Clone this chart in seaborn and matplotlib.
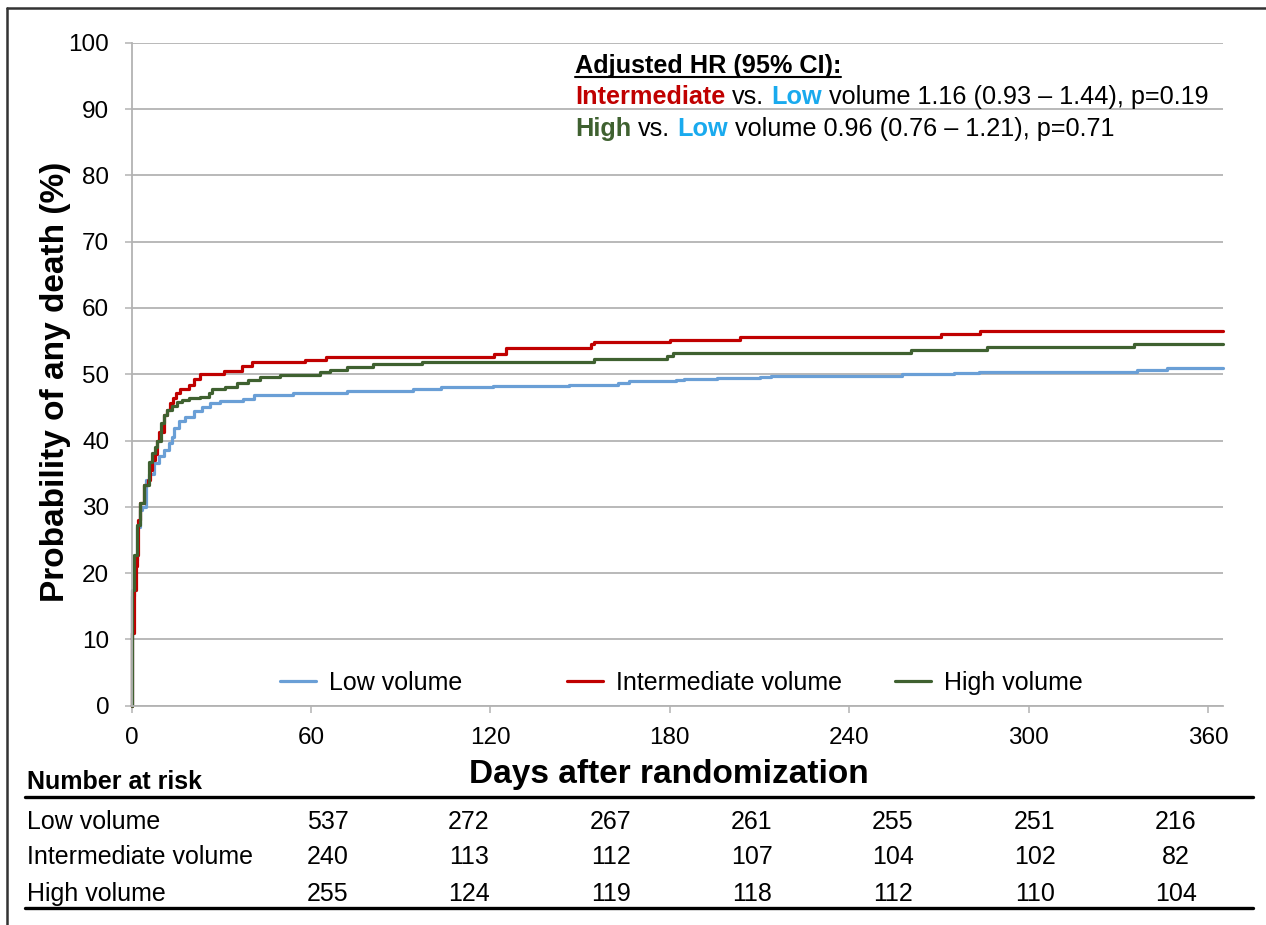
import numpy as np
import pandas as pd
import matplotlib
matplotlib.use("Agg")
import matplotlib.pyplot as plt
import seaborn as sns
from matplotlib.lines import Line2D

# ---------------- data ----------------
groups = ["Low volume", "Intermediate volume", "High volume"]

low_days = [0, 0.2, 1, 2, 3, 3.6, 4.7, 6, 7.4, 9.1, 10.8, 12.4, 13.6, 14.1, 15.8, 18,
            20.8, 23.6, 26.3, 29.7, 37.4, 40.8, 54.1, 71.9, 94.3, 103.4, 120.8, 146.3,
            162.8, 166.4, 182, 184.7, 195.7, 210.3, 214, 257.8, 275.1, 283.3, 336.3,
            346.4, 365]
low_pct = [0, 16.5, 22, 27, 29.5, 30, 34, 35, 36.6, 37.6, 38.6, 39.6, 40.6, 41.9, 42.9,
           43.6, 44.4, 45.1, 45.6, 45.9, 46.2, 46.9, 47.2, 47.4, 47.8, 48.0, 48.2, 48.4,
           48.7, 48.9, 49.1, 49.3, 49.4, 49.6, 49.8, 50.0, 50.2, 50.4, 50.7, 50.9, 50.9]

int_days = [0, 0.3, 0.8, 1.5, 2, 2.3, 3, 4.3, 5.4, 6.3, 6.9, 7.7, 8.6, 9.3, 10.8, 11.9,
            12.9, 13.8, 15, 16.3, 19.1, 20.8, 23, 30.8, 37, 40.3, 58, 65.2, 121.1, 125.3,
            153.7, 154.6, 180.1, 203.5, 270.6, 283.9, 365]
int_pct = [0, 11, 17.5, 21, 22.7, 28, 30.5, 33.3, 34, 35.5, 37, 38, 40, 41.3, 43.9, 44.6,
           45.6, 46.4, 47.2, 47.8, 48.4, 49.3, 50, 50.5, 51.3, 51.8, 52.2, 52.6, 53.1, 53.9,
           54.5, 54.9, 55.2, 55.6, 56.1, 56.5, 56.5]

high_days = [0, 0.1, 1, 1.9, 3, 4.1, 5.8, 6.9, 7.7, 8.6, 9.7, 10.8, 11.9, 13.6, 15.2, 16.9,
             19.1, 23, 25.8, 26.9, 31.3, 35.2, 39.1, 43, 49.7, 63, 66.3, 71.9, 80.8, 97,
             154.6, 179.2, 181, 260.5, 286, 335.4, 365]
high_pct = [0, 17.4, 22.7, 27.2, 30.5, 33.3, 36.8, 38.1, 39, 40, 42.6, 43.9, 44.6, 45.2,
            45.8, 46.1, 46.4, 46.6, 47.2, 47.7, 48.1, 48.7, 49.2, 49.6, 49.9, 50.3, 50.7,
            51.1, 51.5, 51.9, 52.3, 52.8, 53.2, 53.6, 54.1, 54.6, 54.6]

x_ticks = [0, 60, 120, 180, 240, 300, 360]
y_ticks = [0, 10, 20, 30, 40, 50, 60, 70, 80, 90, 100]

risk_title = "Number at risk"
risk_low = [537, 272, 267, 261, 255, 251, 216]
risk_int = [240, 113, 112, 107, 104, 102, 82]
risk_high = [255, 124, 119, 118, 112, 110, 104]

hr_heading = "Adjusted HR (95% CI):"
hr_int_text = "volume 1.16 (0.93 \u2013 1.44), p=0.19"
hr_high_text = "volume 0.96 (0.76 \u2013 1.21), p=0.71"

x_label = "Days after randomization"
y_label = "Probability of any death (%)"

# ---------------- style ----------------
colors = {"Low volume": "#6A9FD6", "Intermediate volume": "#C00000", "High volume": "#3F6130"}
word_low_color = "#19AAEE"
grid_gray = "#b3b3b3"

sns.set_style("white")
plt.rcParams["font.family"] = ["Liberation Sans", "DejaVu Sans"]
plt.rcParams["text.color"] = "black"
plt.rcParams["axes.labelcolor"] = "black"
plt.rcParams["xtick.color"] = "black"
plt.rcParams["ytick.color"] = "black"

W_PX, H_PX = 1266, 925
fig = plt.figure(figsize=(W_PX / 100, H_PX / 100), dpi=100)

ax_l, ax_r, ax_t, ax_b = 131.5, 1223, 42.7, 705.7
ax = fig.add_axes([ax_l / W_PX, 1 - ax_b / H_PX, (ax_r - ax_l) / W_PX, (ax_b - ax_t) / H_PX])

df = pd.concat([
    pd.DataFrame({"day": low_days, "pct": low_pct, "group": groups[0]}),
    pd.DataFrame({"day": int_days, "pct": int_pct, "group": groups[1]}),
    pd.DataFrame({"day": high_days, "pct": high_pct, "group": groups[2]}),
], ignore_index=True)

sns.lineplot(data=df, x="day", y="pct", hue="group", hue_order=groups, palette=colors,
             drawstyle="steps-post", estimator=None, sort=False, linewidth=2.3,
             legend=False, ax=ax, clip_on=False)

ax.set_xlim(0, 365)
ax.set_ylim(0, 100)
ax.set_xticks(x_ticks)
ax.set_yticks(y_ticks)
ax.yaxis.grid(True, color=grid_gray, lw=1.3)
ax.xaxis.grid(False)
ax.set_axisbelow(True)
for s in ["top", "right"]:
    ax.spines[s].set_visible(False)
for s in ["left", "bottom"]:
    ax.spines[s].set_color(grid_gray)
    ax.spines[s].set_linewidth(1.3)
ax.tick_params(axis="both", which="both", direction="out", length=5, width=1.1,
               color=grid_gray, labelsize=17.5, labelcolor="black")
ax.tick_params(axis="y", pad=11, left=True)
ax.tick_params(axis="x", pad=10, bottom=True)

ax.set_xlabel(x_label, fontsize=24, fontweight="bold")
ax.set_ylabel(y_label, fontsize=24, fontweight="bold")
ax.xaxis.set_label_coords(0.4924, -0.081)
ax.yaxis.set_label_coords(-0.055, 0.489)

# legend: one entry per slot, placed like the reference
leg_px = [280, 567, 895]
leg_y = (ax_b - 683) / (ax_b - ax_t)
legs = []
for g, lx in zip(groups, leg_px):
    lg = ax.legend([Line2D([], [], color=colors[g], lw=2.3)], [g], loc="center left",
                   bbox_to_anchor=((lx - ax_l) / (ax_r - ax_l), leg_y), frameon=False,
                   fontsize=18, handlelength=1.45, handletextpad=0.5,
                   borderaxespad=0, borderpad=0)
    legs.append(lg)
for lg in legs[:-1]:
    ax.add_artist(lg)

# ---------------- HR annotation ----------------
renderer = fig.canvas.get_renderer()


def text_w(s, **kw):
    t = fig.text(0, 0, s, **kw)
    w = t.get_window_extent(renderer).width
    t.remove()
    return w


ann_size = 18.2
space_w = text_w("a a", fontsize=ann_size) - text_w("aa", fontsize=ann_size)


def rich_line(x_px, base_px, pieces):
    x = x_px
    for s, color, weight in pieces:
        t = fig.text(x / W_PX, 1 - base_px / H_PX, s, color=color, fontweight=weight,
                     fontsize=ann_size, ha="left", va="baseline")
        x += t.get_window_extent(renderer).width + space_w


ann_x = 575
head = fig.text(ann_x / W_PX, 1 - 73 / H_PX, hr_heading, fontsize=ann_size,
                fontweight="bold", ha="left", va="baseline")
hb = head.get_window_extent(renderer)
fig.add_artist(Line2D([hb.x0 / W_PX, hb.x1 / W_PX], [1 - 77 / H_PX, 1 - 77 / H_PX],
                      color="black", lw=1.5))
rich_line(ann_x, 104, [("Intermediate", colors["Intermediate volume"], "bold"),
                       ("vs.", "black", "normal"),
                       ("Low", word_low_color, "bold"),
                       (hr_int_text, "black", "normal")])
rich_line(ann_x, 136, [("High", colors["High volume"], "bold"),
                       ("vs.", "black", "normal"),
                       ("Low", word_low_color, "bold"),
                       (hr_high_text, "black", "normal")])

# ---------------- number at risk table ----------------
col_px = [328, 469, 611, 752, 893, 1035, 1176]
row_px = [822, 857, 894]
lab_x = 27 / W_PX
fig.text(lab_x, 1 - 782 / H_PX, risk_title, fontsize=18, fontweight="bold",
         ha="left", va="center")
for yy in [797, 908]:
    fig.add_artist(Line2D([25 / W_PX, 1253 / W_PX], [1 - yy / H_PX, 1 - yy / H_PX],
                          color="black", lw=2.4))
for g, vals, ry in zip(groups, [risk_low, risk_int, risk_high], row_px):
    fig.text(lab_x, 1 - ry / H_PX, g, fontsize=18, ha="left", va="center")
    for cx, v in zip(col_px, vals):
        fig.text(cx / W_PX, 1 - ry / H_PX, str(v), fontsize=18, ha="center", va="center")

# ---------------- outer frame ----------------
fig.add_artist(Line2D([7 / W_PX, 7 / W_PX], [0, 1 - 8 / H_PX], color="#333333", lw=1.8))
fig.add_artist(Line2D([7 / W_PX, 1], [1 - 8 / H_PX, 1 - 8 / H_PX], color="#333333", lw=1.8))

fig.savefig("out.png", dpi=100)
